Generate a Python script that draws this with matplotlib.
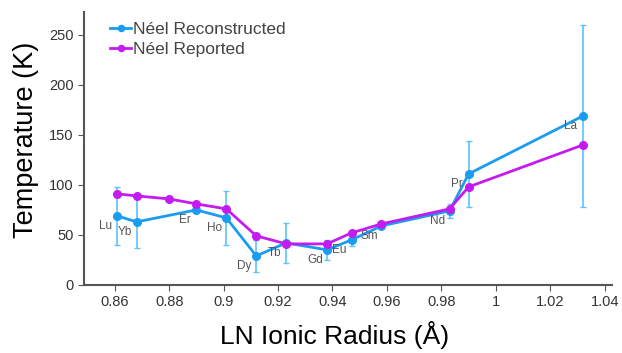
import matplotlib
matplotlib.use("Agg")
import matplotlib.pyplot as plt

plt.rcParams["font.family"] = ["Liberation Sans", "DejaVu Sans"]

# Néel reconstructed (with error bars)
recon_x = [0.861, 0.868, 0.890, 0.901, 0.912, 0.923, 0.938, 0.947, 0.958, 0.983, 0.990, 1.032]
recon_y = [69, 63, 75, 67, 29, 42, 35, 45, 59, 74, 111, 169]
recon_err = [29, 26, 0, 27, 16, 20, 10, 6, 0, 7, 33, 91]
recon_labels = ["Lu", "Yb", "Er", "Ho", "Dy", "Tb", "Gd", "Eu", "Sm", "Nd", "Pr", "La"]

# Néel reported
rep_x = [0.861, 0.868, 0.880, 0.890, 0.901, 0.912, 0.923, 0.938, 0.947, 0.958, 0.983, 0.990, 1.032]
rep_y = [91, 89, 86, 81, 76, 49, 41, 41, 52, 61, 76, 98, 140]

blue = "#1a9cef"
err_blue = "#5cc4f7"
purple = "#c41cf0"
grey = "#444444"

fig = plt.figure(figsize=(6.22, 3.53), dpi=100)
ax = fig.add_axes([0.135, 0.193, 0.849, 0.773])

ax.errorbar(recon_x, recon_y, yerr=recon_err, fmt="none", ecolor=err_blue,
            elinewidth=1.2, capsize=2, capthick=1, zorder=2)
ax.plot(recon_x, recon_y, "-o", color=blue, lw=2, ms=5.5, zorder=3,
        label="Néel Reconstructed")
ax.plot(rep_x, rep_y, "-o", color=purple, lw=2, ms=5.5, zorder=4,
        label="Néel Reported")

# element names sit just below-left of each reconstructed point
for x, y, t in zip(recon_x, recon_y, recon_labels):
    ax.annotate(t, (x, y), xytext=(-8.6, -7.2), textcoords="offset points",
                ha="center", va="center", fontsize=8.5, color="#555555")

ax.set_xlim(0.8487, 1.0427)
ax.set_ylim(0, 273)
ax.set_xticks([0.86, 0.88, 0.9, 0.92, 0.94, 0.96, 0.98, 1.0, 1.02, 1.04])
ax.set_xticklabels(["0.86", "0.88", "0.9", "0.92", "0.94", "0.96", "0.98", "1", "1.02", "1.04"])
ax.set_yticks([0, 50, 100, 150, 200, 250])

for s in ["top", "right"]:
    ax.spines[s].set_visible(False)
for s in ["left", "bottom"]:
    ax.spines[s].set_color("#555555")
    ax.spines[s].set_linewidth(1.5)
ax.tick_params(colors="#555555", labelcolor="#333333", labelsize=10.5, length=4)

ax.set_xlabel("LN Ionic Radius (Å)", fontsize=19)
ax.set_ylabel("Temperature (K)", fontsize=19.5)
ax.xaxis.set_label_coords(0.475, -0.132)
ax.yaxis.set_label_coords(-0.085, 0.53)

leg = ax.legend(loc="upper left", bbox_to_anchor=(0.02, 1.02), frameon=False,
                fontsize=12.5, handlelength=1.2, handletextpad=0.1, labelspacing=0.25,
                markerscale=0.8)
for t in leg.get_texts():
    t.set_color(grey)

fig.savefig("out.png", dpi=100)
